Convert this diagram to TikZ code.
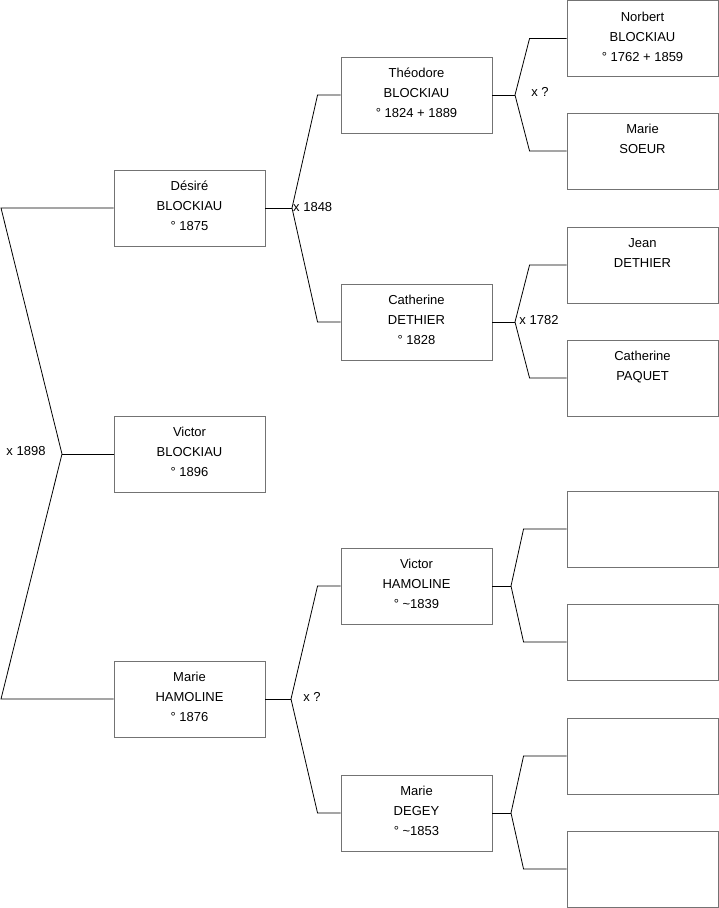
\documentclass[tikz,border=0pt]{standalone}
\usepackage{fontspec}
\setmainfont{Liberation Sans}
\usetikzlibrary{calc}
\newcommand{\tl}[1]{\begin{tabular}[t]{@{}c@{}}#1\end{tabular}}
\begin{document}
\begin{tikzpicture}[x=1pt,y=-1pt,
  person/.style={draw=black!55,line width=0.9pt,fill=white,minimum width=151pt,minimum height=76pt,inner sep=0pt},
  txt/.style={inner sep=0pt,anchor=base,font=\fontsize{13}{20}\selectfont},
  lab/.style={inner sep=0pt,font=\fontsize{13}{20}\selectfont},
  link/.style={draw=black,line width=0.8pt}]
\useasboundingbox (0,0) rectangle (719,908);
% level 1
\node[person] (d) at (189.5,208) {};
\node[person] (v) at (189.5,454) {};
\node[person] (m) at (189.5,699) {};
% level 2
\node[person] (t) at (416.5,95) {};
\node[person] (c) at (416.5,322) {};
\node[person] (vh) at (416.5,586) {};
\node[person] (md) at (416.5,813) {};
% level 3
\node[person] (n) at (642.5,38.5) {};
\node[person] (ms) at (642.5,151) {};
\node[person] (j) at (642.5,265) {};
\node[person] (cp) at (642.5,378) {};
\node[person] (e1) at (642.5,529) {};
\node[person] (e2) at (642.5,642) {};
\node[person] (e3) at (642.5,756) {};
\node[person] (e4) at (642.5,869) {};
% texts
\node[txt] (dt) at ([yshift=-21pt]d.north) {\tl{Désiré\\BLOCKIAU\\° 1875}};
\node[txt] (vt) at ([yshift=-21pt]v.north) {\tl{Victor\\BLOCKIAU\\° 1896}};
\node[txt] (mt) at ([yshift=-21pt]m.north) {\tl{Marie\\HAMOLINE\\° 1876}};
\node[txt] (tt) at ([yshift=-21pt]t.north) {\tl{Théodore\\BLOCKIAU\\° 1824 + 1889}};
\node[txt] (ct) at ([yshift=-21pt]c.north) {\tl{Catherine\\DETHIER\\° 1828}};
\node[txt] (vht) at ([yshift=-21pt]vh.north) {\tl{Victor\\HAMOLINE\\° \textasciitilde1839}};
\node[txt] (mdt) at ([yshift=-21pt]md.north) {\tl{Marie\\DEGEY\\° \textasciitilde1853}};
\node[txt] (nt) at ([yshift=-21pt]n.north) {\tl{Norbert\\BLOCKIAU\\° 1762 + 1859}};
\node[txt] (mst) at ([yshift=-21pt]ms.north) {\tl{Marie\\SOEUR}};
\node[txt] (jt) at ([yshift=-21pt]j.north) {\tl{Jean\\DETHIER}};
\node[txt] (cpt) at ([yshift=-21pt]cp.north) {\tl{Catherine\\PAQUET}};
% root fork
\coordinate (r0) at (62,454);
\coordinate (ra) at (1,208);
\coordinate (rb) at (1,699);
\draw[link] (d.west) -- (ra) -- (r0) -- (rb) -- (m.west);
\draw[link] (r0) -- (v.west);
\node[lab] (l1) at (26,451) {x 1898};
% Désiré fork
\coordinate (j1) at (292,208);
\draw[link] (d.east) -- (j1);
\draw[link] (t.west) -- ($(t.west)+(-23,0)$) -- (j1) -- ($(c.west)+(-23,0)$) -- (c.west);
\node[lab,anchor=west] (l2) at (293,207) {x 1848};
% Marie H fork
\coordinate (j2) at (291,699);
\draw[link] (m.east) -- (j2);
\draw[link] (vh.west) -- ($(vh.west)+(-23,0)$) -- (j2) -- ($(md.west)+(-23,0)$) -- (md.west);
\node[lab] (l3) at (312,697) {x ?};
% Théodore fork
\coordinate (j3) at (515,95);
\draw[link] (t.east) -- (j3);
\draw[link] (n.west) -- ($(n.west)+(-37,0)$) -- (j3) -- ($(ms.west)+(-37,0)$) -- (ms.west);
\node[lab] (l4) at (540,92) {x ?};
% Catherine fork
\coordinate (j4) at (515,322);
\draw[link] (c.east) -- (j4);
\draw[link] (j.west) -- ($(j.west)+(-37,0)$) -- (j4) -- ($(cp.west)+(-37,0)$) -- (cp.west);
\node[lab] (l5) at (539,320) {x 1782};
% Victor H fork
\coordinate (j5) at (511,586);
\draw[link] (vh.east) -- (j5);
\draw[link] (e1.west) -- ($(e1.west)+(-43,0)$) -- (j5) -- ($(e2.west)+(-43,0)$) -- (e2.west);
% Marie DEGEY fork
\coordinate (j6) at (511,813);
\draw[link] (md.east) -- (j6);
\draw[link] (e3.west) -- ($(e3.west)+(-43,0)$) -- (j6) -- ($(e4.west)+(-43,0)$) -- (e4.west);
\end{tikzpicture}
\end{document}
